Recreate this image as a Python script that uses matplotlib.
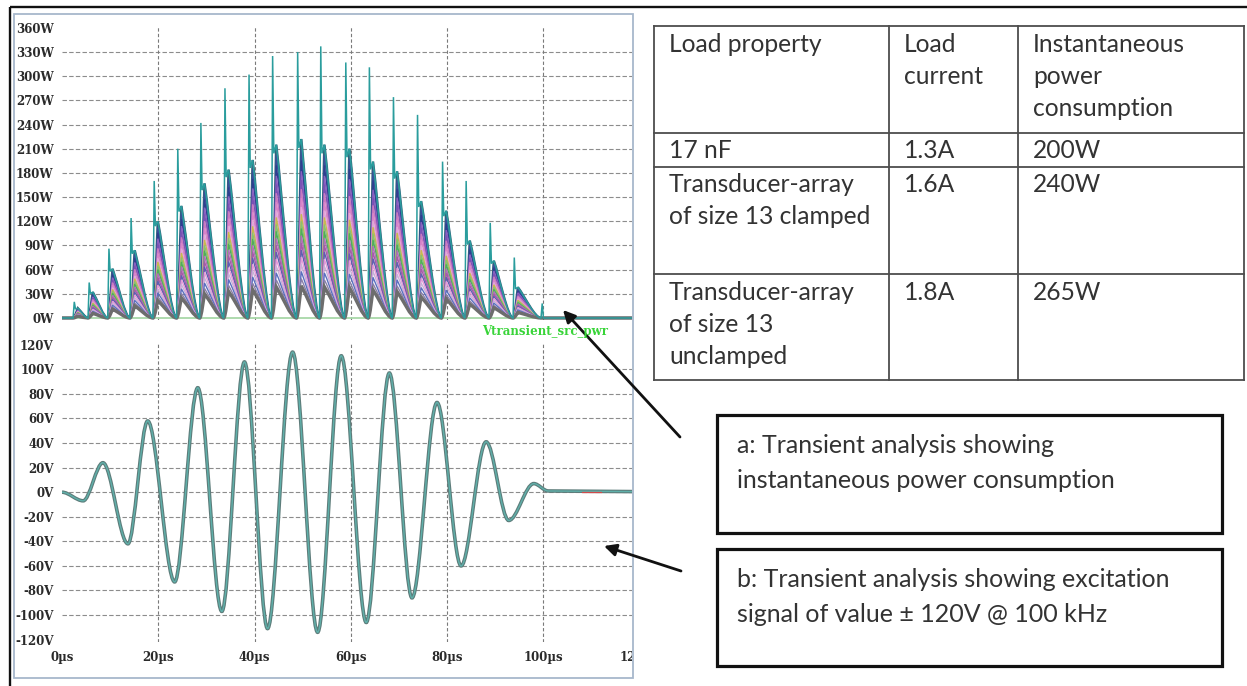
import matplotlib
matplotlib.use("Agg")
import matplotlib.pyplot as plt
from matplotlib.path import Path
from matplotlib.patches import PathPatch, Rectangle, FancyArrowPatch
from matplotlib.transforms import Bbox, TransformedBbox, blended_transform_factory

# ---------------- data ----------------
# excitation voltage: extrema of the burst (time in us, value in V)
volt_t = [0.0, 4.4, 8.5, 13.7, 17.8, 23.4, 28.2, 33.2, 37.9, 42.7, 47.9,
          53.1, 58.0, 63.2, 68.0, 72.7, 77.9, 82.9, 88.1, 92.8, 98.0, 101.0, 118.4]
volt_v = [0, -7, 24, -42, 58, -73, 85, -97, 106, -111, 114,
          -114, 111, -106, 97, -86, 73, -60, 41, -23, 7, 1, 0.5]

# instantaneous power: one hump per half period
hump_start = [2.3, 5.4, 9.5, 14.1, 18.9, 23.8, 28.6, 33.6, 38.6, 43.5, 48.7,
              53.5, 58.7, 63.6, 68.6, 73.6, 78.8, 83.7, 88.7, 93.7, 99.5]
hump_peak = [12, 32, 61, 84, 120, 139, 167, 184, 196, 215, 222,
             215, 210, 194, 182, 145, 133, 96, 71, 38, 0]
spike_peak = [20, 44, 86, 124, 170, 210, 242, 285, 302, 325, 330,
              337, 317, 311, 274, 252, 194, 170, 118, 75, 18]
# relative level of each swept trace
sweep_levels = [1.0, 0.94, 0.88, 0.82, 0.77, 0.72, 0.67, 0.62, 0.58, 0.54,
                0.5, 0.46, 0.42, 0.38, 0.34, 0.30, 0.26, 0.22, 0.18]
sweep_colors = ["#35607a", "#3a4f9a", "#2e3f8f", "#8a5fc0", "#7b52b5", "#c97ac0",
                "#d985c9", "#e0a8d8", "#c8b94e", "#8ac070", "#4fae5a", "#b070b8",
                "#a65ba8", "#5f5fb0", "#e59ad6", "#c9b0d8", "#5a6fbf", "#8a7fa8",
                "#6d6d6d"]

power_ticks = [0, 30, 60, 90, 120, 150, 180, 210, 240, 270, 300, 330, 360]
volt_ticks = [120, 100, 80, 60, 40, 20, 0, -20, -40, -60, -80, -100, -120]
time_ticks = [0, 20, 40, 60, 80, 100, 120]

table_rows = [
    ["Load property", "Load\ncurrent", "Instantaneous\npower\nconsumption"],
    ["17 nF", "1.3A", "200W"],
    ["Transducer-array\nof size 13 clamped", "1.6A", "240W"],
    ["Transducer-array\nof size 13\nunclamped", "1.8A", "265W"],
]
note_a = "a: Transient analysis showing\ninstantaneous power consumption"
note_b = "b: Transient analysis showing excitation\nsignal of value \u00b1 120V @ 100 kHz"
trace_name = "Vtransient_src_pwr"

# ---------------- figure ----------------
W, H = 1247, 686
fig = plt.figure(figsize=(W / 100, H / 100), dpi=100)
fig.patch.set_facecolor("white")


def px_axes(x0, y0, x1, y1):
    return fig.add_axes([x0 / W, 1 - y1 / H, (x1 - x0) / W, (y1 - y0) / H])


T_MAX = 118.4
tick_font = dict(family="DejaVu Serif", weight="bold", size=8.5, color="#2a2a2a")
grid_h = dict(color="#8c8c8c", lw=0.8, ls=(0, (4, 2)))
grid_v = dict(color="#7a7a7a", lw=0.8, ls=(0, (3, 2)))


def style_axes(ax):
    ax.set_facecolor("none")
    for s in ax.spines.values():
        s.set_visible(False)
    ax.tick_params(length=0)
    ax.set_xticks([])


def smooth_path(ts, vs):
    verts = [(ts[0], vs[0])]
    codes = [Path.MOVETO]
    for i in range(len(ts) - 1):
        d = ts[i + 1] - ts[i]
        verts += [(ts[i] + d / 3, vs[i]), (ts[i + 1] - d / 3, vs[i + 1]),
                  (ts[i + 1], vs[i + 1])]
        codes += [Path.CURVE4] * 3
    return Path(verts, codes)


def hump_path(level, with_spike=False):
    verts = [(0, 0), (hump_start[0], 0)]
    codes = [Path.MOVETO, Path.LINETO]
    n = len(hump_start)
    for i in range(n):
        ts = hump_start[i]
        te = hump_start[i + 1] if i + 1 < n else ts + 1.0
        h = level * hump_peak[i]
        rise = 1.0
        tp = ts + rise
        if with_spike:
            verts += [(ts + 0.25, spike_peak[i]), (ts + 0.5, h * 0.95), (tp, h)]
            codes += [Path.LINETO] * 3
        else:
            verts += [(ts + rise * 0.35, 0), (tp - rise * 0.15, h * 0.85), (tp, h)]
            codes += [Path.CURVE4] * 3
        d = te - tp
        verts += [(tp + d * 0.3, h * 0.7), (te - d * 0.28, 0), (te, 0)]
        codes += [Path.CURVE4] * 3
    verts.append((T_MAX, 0))
    codes.append(Path.LINETO)
    return Path(verts, codes)


# ---- power panel ----
ax_p = px_axes(62, 26.2, 632, 320.4)
style_axes(ax_p)
ax_p.set_xlim(0, T_MAX)
ax_p.set_ylim(-3, 362)
for y in power_ticks[1:-1]:
    ax_p.axhline(y, **grid_h, zorder=0)
for x in time_ticks[1:-1]:
    ax_p.axvline(x, **grid_v, zorder=0)
ax_p.axhline(0, color="#a8d8a8", lw=1.3, zorder=1)
for lvl, col in zip(sweep_levels, sweep_colors):
    lw = 1.8 if lvl == 1.0 else (2.4 if lvl < 0.2 else 1.0)
    ax_p.add_patch(PathPatch(hump_path(lvl), fill=False, ec=col, lw=lw, zorder=2))
ax_p.add_patch(PathPatch(hump_path(1.0, with_spike=True), fill=False,
                         ec="#2a9d9d", lw=1.1, zorder=3))
ax_p.set_yticks(power_ticks)
ax_p.set_yticklabels([f"{v}W" for v in power_ticks])
ax_p.tick_params(axis="y", pad=6.0)
for lab in ax_p.get_yticklabels():
    lab.set(**tick_font)

# ---- voltage panel ----
ax_v = px_axes(62, 342.3, 632, 642.1)
style_axes(ax_v)
ax_v.set_xlim(0, T_MAX)
ax_v.set_ylim(-122, 122)
for y in volt_ticks[1:-1]:
    ax_v.axhline(y, **grid_h, zorder=0)
for x in time_ticks[1:-1]:
    ax_v.axvline(x, **grid_v, zorder=0)
ax_v.add_patch(PathPatch(smooth_path(volt_t, volt_v), fill=False,
                         ec="#5d7c7a", lw=2.6, zorder=2))
ax_v.add_patch(PathPatch(smooth_path(volt_t, volt_v), fill=False,
                         ec="#5fb0aa", lw=1.0, zorder=3))
ax_v.plot([108, 112], [0.3, 0.3], color="#d04a4a", lw=0.9, zorder=3)
ax_v.set_yticks(volt_ticks)
ax_v.set_yticklabels([f"{v}V" for v in volt_ticks])
ax_v.tick_params(axis="y", pad=6.0)
for lab in ax_v.get_yticklabels():
    lab.set(**tick_font)

panel_clip = TransformedBbox(Bbox([[15 / W, 8 / H], [632 / W, 672 / H]]),
                             fig.transFigure)
xlab_tr = blended_transform_factory(ax_v.transData, ax_v.transAxes)
for t in time_ticks:
    txt = ax_v.text(t, -0.053, f"{t}\u00b5s", transform=xlab_tr, ha="center",
                    va="center", **tick_font)
    txt.set_clip_on(True)
    txt.set_clip_box(panel_clip)

# ---------------- overlay: frame, table, notes, arrows ----------------
ov = fig.add_axes([0, 0, 1, 1])
ov.set_xlim(0, W)
ov.set_ylim(H, 0)
ov.axis("off")
ov.set_zorder(5)
ov.patch.set_alpha(0)

ov.plot([10, W], [7, 7], color="#111111", lw=1.7, solid_capstyle="butt")
ov.plot([10, 10], [7, H], color="#111111", lw=1.7, solid_capstyle="butt")
ov.add_patch(Rectangle((14, 14), 619, 664, fill=False, ec="#a7b7cc", lw=1.3))
ov.text(545, 332, trace_name, ha="center", va="center", color="#39d439",
        family="DejaVu Serif", weight="bold", size=8.5)

# table
col_x = [654, 889, 1018, 1244]
row_y = [26, 133, 167, 274, 380]
tcol = "#4d4d4d"
for x in col_x:
    ov.plot([x, x], [row_y[0], row_y[-1]], color=tcol, lw=1.3)
for y in row_y:
    ov.plot([col_x[0], col_x[-1]], [y, y], color=tcol, lw=1.3)
table_font = dict(family="Lato", size=17.7, color="#333333")
for r, row in enumerate(table_rows):
    for c, cell in enumerate(row):
        for k, line in enumerate(cell.split("\n")):
            ov.text(col_x[c] + 15, row_y[r] + 25.5 + 32 * k, line,
                    ha="left", va="baseline", **table_font)

# note boxes
note_font = dict(family="Lato", size=18, color="#333333")
for (y0, y1, note) in [(415, 533, note_a), (549, 666, note_b)]:
    ov.add_patch(Rectangle((717, y0), 505, y1 - y0, fill=False, ec="#111111", lw=2.3))
    for k, line in enumerate(note.split("\n")):
        ov.text(737, y0 + 38 + 35 * k, line, ha="left", va="baseline", **note_font)

# arrows
for (tail, head) in [((680, 437), (563, 310)), ((681, 571), (604, 546))]:
    ov.add_patch(FancyArrowPatch(tail, head, arrowstyle="-|>", mutation_scale=18,
                                 color="#111111", lw=2.0, shrinkA=0, shrinkB=0))

fig.savefig("out.png", dpi=100, facecolor="white")
